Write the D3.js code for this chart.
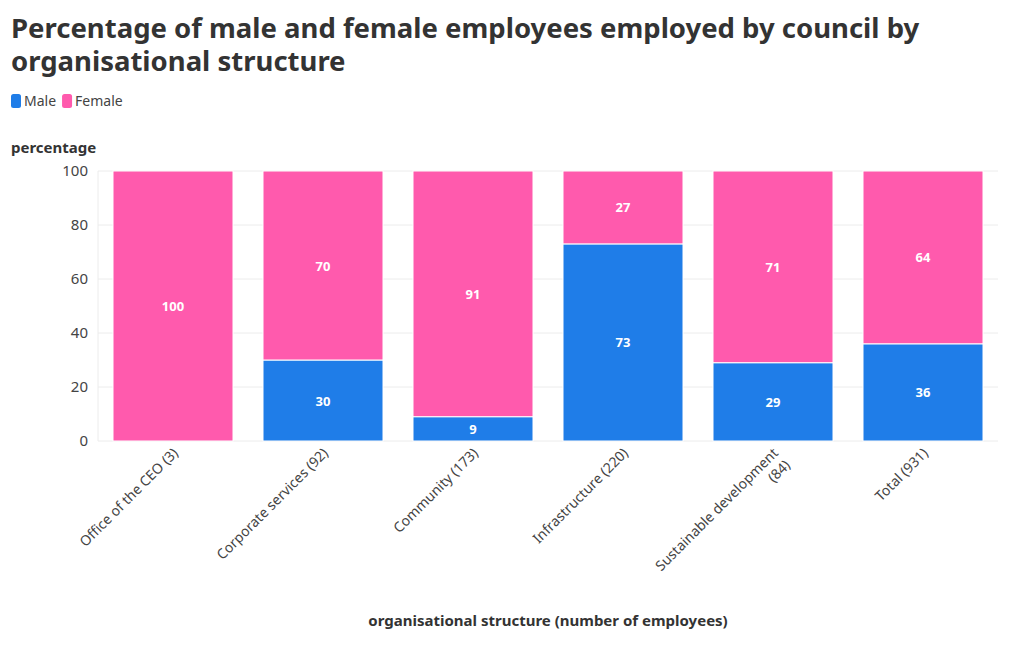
<!DOCTYPE html>
<html><head><meta charset="utf-8">
<script src="https://cdn.jsdelivr.net/npm/d3@7"></script>
<style>
body{margin:0;background:#fff;font-family:"Noto Sans",sans-serif;}
</style></head>
<body><svg id="c" width="1020" height="650"></svg>
<script>
const categories = ["Office of the CEO (3)","Corporate services (92)","Community (173)","Infrastructure (220)","Sustainable development (84)","Total (931)"];
const labelLines = [["Office of the CEO (3)"],["Corporate services (92)"],["Community (173)"],["Infrastructure (220)"],["Sustainable development","(84)"],["Total (931)"]];
const male = [0,30,9,73,29,36];
const female = [100,70,91,27,71,64];
const seriesNames = ["Male","Female"];
const yTicks = [0,20,40,60,80,100];
const colors = ["#1f7de8","#ff5aad"];

const svg = d3.select("#c");
const m = {l:98, r:998, t:171, b:441};
const x = d3.scaleBand().domain(categories).range([m.l,m.r]).paddingInner(0.2).paddingOuter(0.1);
const y = d3.scaleLinear().domain([0,100]).range([m.b,m.t]);

// title
svg.append("text").attr("x",11).attr("y",38).attr("fill","#333").style("font-size","27.5px").style("font-weight","700")
  .text("Percentage of male and female employees employed by council by");
svg.append("text").attr("x",11).attr("y",71).attr("fill","#333").style("font-size","27.5px").style("font-weight","700")
  .text("organisational structure");

// legend
const lg = svg.append("g");
let lx = 11;
seriesNames.forEach((s,i)=>{
  lg.append("rect").attr("x",lx).attr("y",94).attr("width",10).attr("height",14).attr("rx",2.5).attr("fill",colors[i]);
  const tx = lg.append("text").attr("x",lx+13).attr("y",106).attr("fill","#444").style("font-size","14px").text(s);
  lx += 13 + tx.node().getComputedTextLength() + 6;
});

svg.append("text").attr("x",11).attr("y",153).attr("fill","#333").style("font-size","15px").style("font-weight","700").text("percentage");

// grid
const grid = svg.append("g");
yTicks.forEach(v=>{
  grid.append("line").attr("x1",m.l).attr("x2",m.r).attr("y1",y(v)).attr("y2",y(v)).attr("stroke","#ececec");
});
categories.forEach(c=>{
  const cx = x(c)+x.bandwidth()/2;
  grid.append("line").attr("x1",cx).attr("x2",cx).attr("y1",m.t).attr("y2",m.b).attr("stroke","#f2f2f2");
});
grid.append("line").attr("x1",m.l).attr("x2",m.l).attr("y1",m.t).attr("y2",m.b).attr("stroke","#ececec");

// y axis
const ya = svg.append("g").attr("transform",`translate(${m.l},0)`).call(d3.axisLeft(y).tickValues(yTicks).tickSize(0).tickPadding(10));
ya.select(".domain").remove();
ya.selectAll("text").attr("fill","#444").style("font-size","15px").style("font-family","'Noto Sans',sans-serif");

// bars
const stackData = categories.map((c,i)=>({cat:c, Male:male[i], Female:female[i]}));
const stack = d3.stack().keys(seriesNames)(stackData);
stack.forEach((layer,li)=>{
  const g = svg.append("g");
  layer.forEach(d=>{
    const h = y(d[0]) - y(d[1]);
    if (h<=0) return;
    g.append("rect").attr("x",x(d.data.cat)).attr("width",x.bandwidth())
      .attr("y",y(d[1])).attr("height",h).attr("fill",colors[li])
      .attr("stroke","#fff").attr("stroke-width",1);
    g.append("text").attr("x",x(d.data.cat)+x.bandwidth()/2).attr("y",(y(d[0])+y(d[1]))/2+5)
      .attr("text-anchor","middle").attr("fill","#fff").style("font-size","13px").style("font-weight","700")
      .text(d[1]-d[0]);
  });
});

// x axis labels
const xa = svg.append("g");
categories.forEach((c,i)=>{
  const cx = x(c)+x.bandwidth()/2;
  const tx = xa.append("text").attr("transform",`translate(${cx+6},${m.b+13}) rotate(-45)`)
    .attr("text-anchor","end").attr("fill","#444").style("font-size","14px");
  labelLines[i].forEach((ln,j)=>{
    tx.append("tspan").attr("x",0).attr("y",j*17).text(ln);
  });
});

svg.append("text").attr("x",(m.l+m.r)/2).attr("y",626).attr("text-anchor","middle").attr("fill","#333")
  .style("font-size","15px").style("font-weight","700").text("organisational structure (number of employees)");
</script>
</body></html>
